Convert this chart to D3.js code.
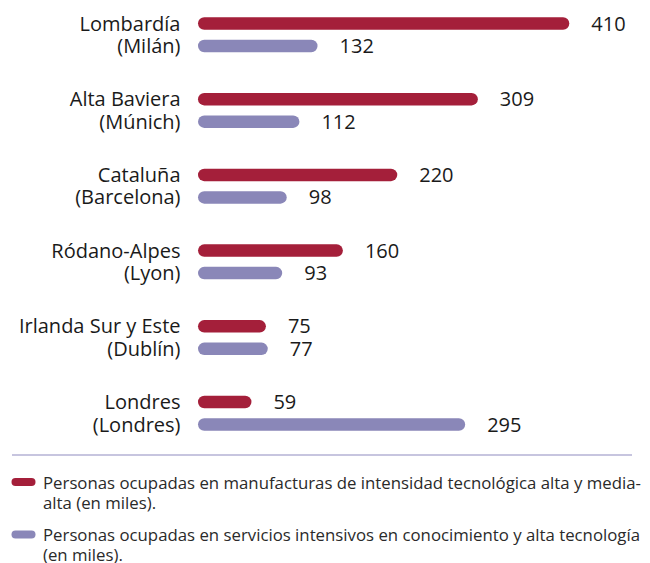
<!DOCTYPE html>
<html><head><meta charset="utf-8">
<script src="https://cdn.jsdelivr.net/npm/d3@7"></script>
<style>
html,body{margin:0;padding:0;background:#fff;}
svg{display:block;font-family:"Open Sans",sans-serif;}
</style></head>
<body>
<svg id="chart" width="650" height="563"></svg>
<script>
const regions = ["Lombardía", "Alta Baviera", "Cataluña", "Ródano-Alpes", "Irlanda Sur y Este", "Londres"];
const cities = ["(Milán)", "(Múnich)", "(Barcelona)", "(Lyon)", "(Dublín)", "(Londres)"];
const seriesNames = ["manufacturas", "servicios"];
const manufacturas = [410, 309, 220, 160, 75, 59];
const servicios = [132, 112, 98, 93, 77, 295];
const legendLines = [
  ["Personas ocupadas en manufacturas de intensidad tecnológica alta y media-", "alta (en miles)."],
  ["Personas ocupadas en servicios intensivos en conocimiento y alta tecnología", "(en miles)."]
];
const colors = ["#a41f3a", "#8a87b8"];

const svg = d3.select("#chart");
const x = d3.scaleLinear().domain([0, 410]).range([198, 569.3]);
const yGroup = d3.scaleBand().domain(regions).range([11.5, 11.5 + 6 * 75.7]);
const ySeries = d3.scalePoint().domain(seriesNames).range([12, 34.5]);
const barH = 12.5;
const values = [manufacturas, servicios];
const fs = 20;

const g = svg.append("g");
regions.forEach((r, i) => {
  const gy = yGroup(r);
  g.append("text").attr("x", 180.5).attr("y", gy + ySeries(seriesNames[0]) + 7)
    .attr("text-anchor", "end").attr("font-size", fs).attr("fill", "#1a1a1a").text(r);
  g.append("text").attr("x", 180.5).attr("y", gy + ySeries(seriesNames[1]) + 7)
    .attr("text-anchor", "end").attr("font-size", fs).attr("fill", "#1a1a1a").text(cities[i]);
  seriesNames.forEach((s, j) => {
    const v = values[j][i];
    const cy = gy + ySeries(s);
    g.append("rect").attr("x", x(0)).attr("y", cy - barH / 2)
      .attr("width", x(v) - x(0)).attr("height", barH)
      .attr("rx", barH / 2).attr("ry", barH / 2).attr("fill", colors[j]);
    g.append("text").attr("x", x(v) + 22).attr("y", cy + 7)
      .attr("font-size", fs).attr("fill", "#1a1a1a").text(v);
  });
});

svg.append("line").attr("x1", 12).attr("x2", 632).attr("y1", 455).attr("y2", 455)
  .attr("stroke", "#b4b2d4").attr("stroke-width", 1.5);

const legendTop = [488.5, 541];
legendLines.forEach((lines, j) => {
  svg.append("rect").attr("x", 11.5).attr("y", legendTop[j] - 10.5).attr("width", 24).attr("height", 8)
    .attr("rx", 4).attr("fill", colors[j]);
  lines.forEach((t, k) => {
    svg.append("text").attr("x", 43).attr("y", legendTop[j] + k * 20)
      .attr("font-size", 16.8).attr("fill", "#2a2a2a").text(t);
  });
});
</script>
</body></html>
